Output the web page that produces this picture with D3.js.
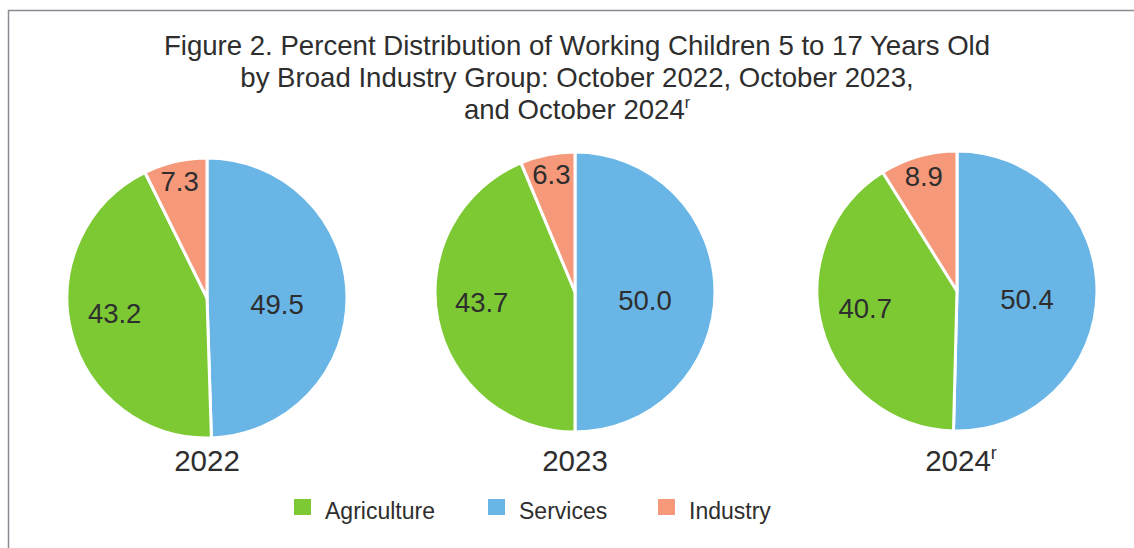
<!DOCTYPE html>
<html>
<head>
<meta charset="utf-8">
<script src="https://cdn.jsdelivr.net/npm/d3@7/dist/d3.min.js"></script>
<style>
  html, body { margin: 0; padding: 0; background: #fff; }
  svg { display: block; font-family: "Liberation Sans", Arial, sans-serif; }
</style>
</head>
<body>
<svg id="chart" width="1134" height="548"></svg>
<script>
// ---- data ----
const titleLines = [
  "Figure 2. Percent Distribution of Working Children 5 to 17 Years Old",
  "by Broad Industry Group: October 2022, October 2023,",
  "and October 2024"
];
const years = ["2022", "2023", "2024"];
const yearSuffix = ["", "", "r"];
const categories = ["Agriculture", "Services", "Industry"];
const pieOrder = ["Services", "Agriculture", "Industry"];
const agriculture = [43.2, 43.7, 40.7];
const services = [49.5, 50.0, 50.4];
const industry = [7.3, 6.3, 8.9];

// ---- styles / layout ----
const colors = { Agriculture: "#7cc934", Services: "#68b5e6", Industry: "#f6997b" };
const labelFrac = { Agriculture: 0.68, Services: 0.5, Industry: 0.86 };
const labelDy = { Agriculture: -8, Services: 8, Industry: 1 };
const textColor = "#2e2e2e";
const W = 1134, H = 548;
const R = 140;

const svg = d3.select("#chart");
svg.append("rect").attr("x", 0).attr("y", 0).attr("width", W).attr("height", H).attr("fill", "#fff");

// border (partially cropped in reference)
svg.append("path")
  .attr("d", `M8.5,${H} L8.5,10.5 L${W},10.5`)
  .attr("fill", "none").attr("stroke", "#8a8a92").attr("stroke-width", 1.5);

// title
const title = svg.append("text").attr("text-anchor", "middle")
  .attr("fill", textColor).style("font-size", "27.6px");
titleLines.forEach((t, i) => {
  title.append("tspan").attr("x", 577).attr("y", 55 + i * 32).text(t);
});
title.select("tspan:last-child").append("tspan")
  .attr("font-size", "16px").attr("dy", -11).text("r");

// pies
const xScale = d3.scaleOrdinal().domain(years).range([207, 575, 957]);
const yScale = d3.scaleOrdinal().domain(years).range([298, 292, 291]);
const valuesByCat = { Agriculture: agriculture, Services: services, Industry: industry };

const pie = d3.pie().sort(null).value(d => d.value);
const arc = d3.arc().innerRadius(0).outerRadius(R);

years.forEach((yr, yi) => {
  const cx = xScale(yr), cy = yScale(yr);
  const data = pieOrder.map(c => ({ cat: c, value: valuesByCat[c][yi] }));
  const arcs = pie(data);
  const g = svg.append("g").attr("transform", `translate(${cx},${cy})`);
  g.selectAll("path").data(arcs).join("path")
    .attr("d", arc)
    .attr("fill", d => colors[d.data.cat])
    .attr("stroke", "#fff").attr("stroke-width", 3).attr("stroke-linejoin", "round");
  g.selectAll("text").data(arcs).join("text")
    .attr("transform", d => {
      const a = (d.startAngle + d.endAngle) / 2;
      const r = R * labelFrac[d.data.cat];
      return `translate(${Math.sin(a) * r},${-Math.cos(a) * r + labelDy[d.data.cat]})`;
    })
    .attr("text-anchor", "middle")
    .attr("dominant-baseline", "central")
    .attr("fill", textColor)
    .style("font-size", "27.5px")
    .text(d => d3.format(".1f")(d.data.value));

  const yl = svg.append("text")
    .attr("x", cx + (yearSuffix[yi] ? 4 : 0)).attr("y", 471)
    .attr("text-anchor", "middle")
    .attr("fill", textColor)
    .style("font-size", "29.5px");
  yl.append("tspan").text(yr);
  if (yearSuffix[yi]) {
    yl.append("tspan").attr("font-size", "18px").attr("dy", -12).text(yearSuffix[yi]);
  }
});

// legend
const legendX = { Agriculture: 294, Services: 488, Industry: 658 };
const lg = svg.append("g");
categories.forEach(c => {
  lg.append("rect").attr("x", legendX[c]).attr("y", 499)
    .attr("width", 17).attr("height", 16).attr("fill", colors[c]);
  lg.append("text").attr("x", legendX[c] + 31).attr("y", 519)
    .attr("fill", textColor).style("font-size", "23px").text(c);
});
</script>
</body>
</html>
